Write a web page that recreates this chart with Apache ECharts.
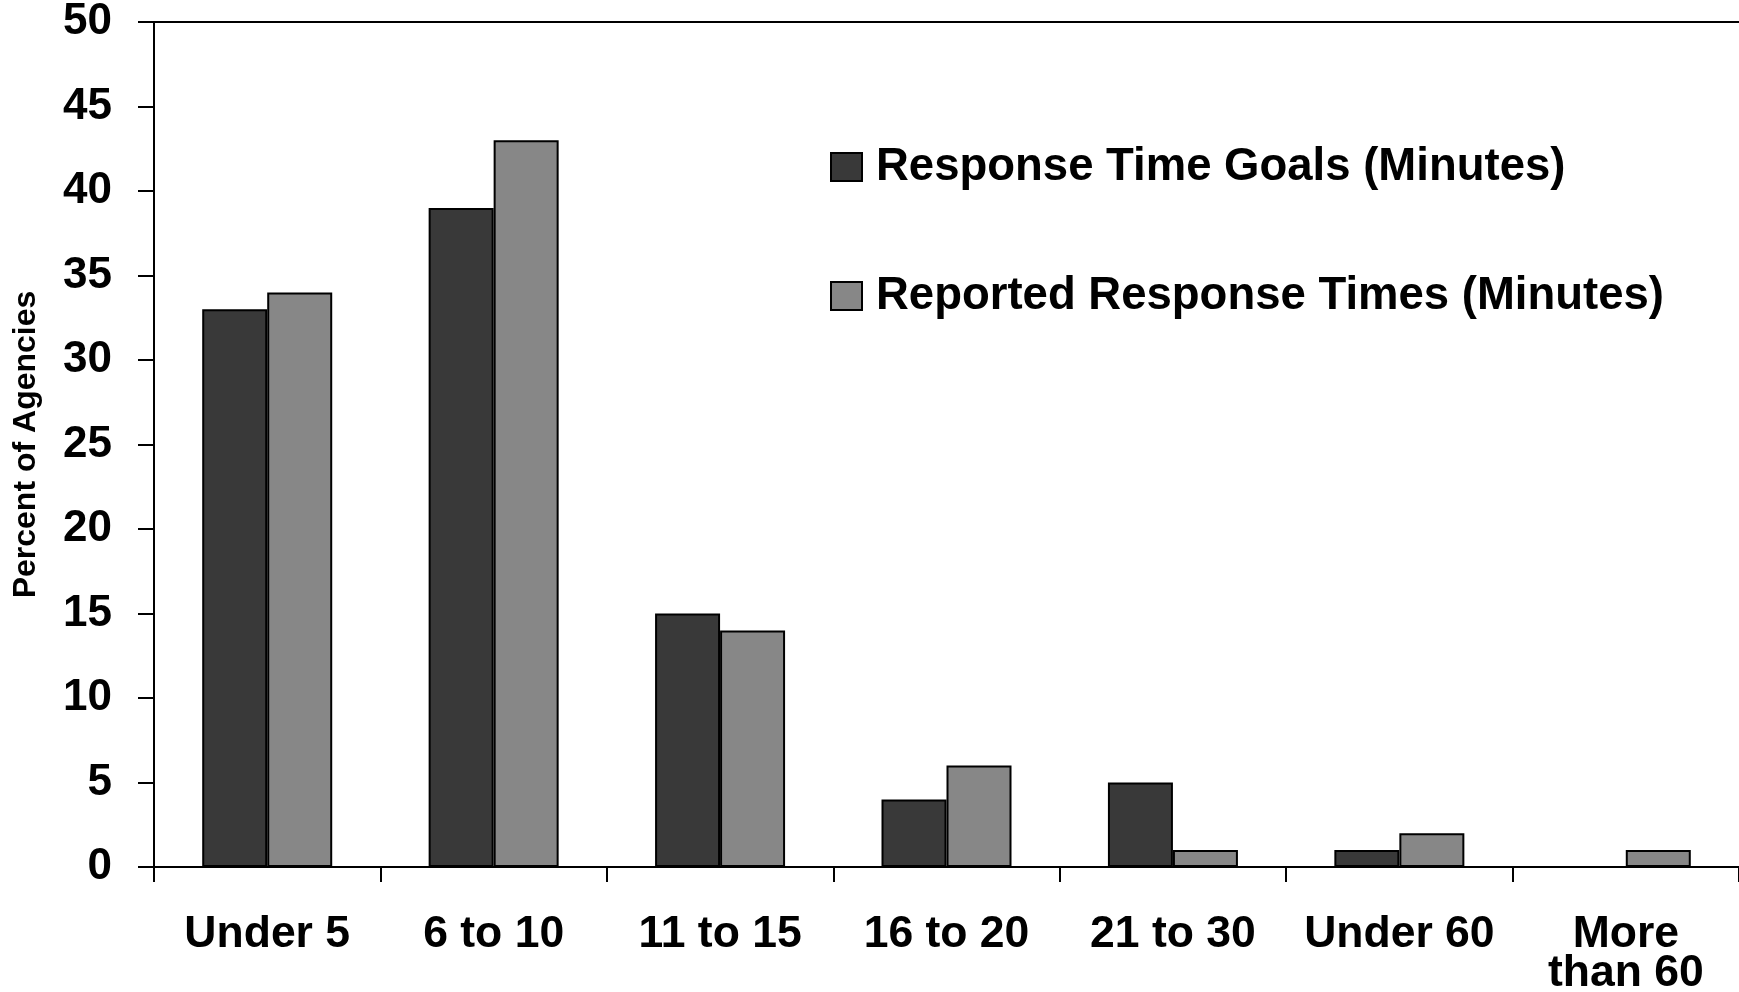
<!DOCTYPE html>
<html>
<head>
<meta charset="utf-8">
<script src="https://cdn.jsdelivr.net/npm/echarts@6/dist/echarts.min.js"></script>
<style>
html,body{margin:0;padding:0;background:#fff;}
#chart{width:1739px;height:992px;}
</style>
</head>
<body>
<div id="chart"></div>
<script>
const categories = ['Under 5', '6 to 10', '11 to 15', '16 to 20', '21 to 30', 'Under 60', 'More\nthan 60'];
const goals = [33, 39, 15, 4, 5, 1, 0];
const reported = [34, 43, 14, 6, 1, 2, 1];
const seriesNames = ['Response Time Goals (Minutes)', 'Reported Response Times (Minutes)'];
const yTicks = {min: 0, max: 50, interval: 5};

const FONT = '"Liberation Sans", Arial, Helvetica, sans-serif';
// zero-height bars draw no outline
const toItems = arr => arr.map(v => v === 0 ? {value: v, itemStyle: {borderWidth: 0}} : v);

const chart = echarts.init(document.getElementById('chart'));
chart.setOption({
  animation: false,
  backgroundColor: '#ffffff',
  grid: {left: 154, right: 0, top: 22, bottom: 125, containLabel: false, outerBoundsMode: 'none'},
  legend: {
    orient: 'vertical',
    left: 825,
    top: 139,
    padding: 5,
    icon: 'rect',
    itemWidth: 31,
    itemHeight: 28,
    itemGap: 83,
    selectedMode: false,
    textStyle: {fontFamily: FONT, fontWeight: 'bold', fontSize: 45.5, color: '#000', lineHeight: 45, padding: [0, 0, 0, 9]},
    data: seriesNames
  },
  xAxis: [{
    type: 'category',
    data: categories,
    position: 'bottom',
    axisLine: {show: true, lineStyle: {color: '#000', width: 2}},
    axisTick: {show: true, length: 15, lineStyle: {color: '#000', width: 2}},
    axisLabel: {fontFamily: FONT, fontWeight: 'bold', fontSize: 44.5, color: '#000', margin: 48, lineHeight: 39, interval: 0},
    splitLine: {show: false}
  }, {
    type: 'category',
    data: categories,
    position: 'top',
    axisLine: {show: true, lineStyle: {color: '#000', width: 2}},
    axisTick: {show: false},
    axisLabel: {show: false},
    splitLine: {show: false}
  }],
  yAxis: {
    type: 'value',
    min: yTicks.min,
    max: yTicks.max,
    interval: yTicks.interval,
    name: 'Percent of Agencies',
    nameLocation: 'middle',
    nameGap: 112,
    nameRotate: 90,
    nameTextStyle: {fontFamily: FONT, fontWeight: 'bold', fontSize: 32, color: '#000'},
    axisLine: {show: true, lineStyle: {color: '#000', width: 2}},
    axisTick: {show: true, length: 16, lineStyle: {color: '#000', width: 2}},
    axisLabel: {fontFamily: FONT, fontWeight: 'bold', fontSize: 44, color: '#000', margin: 42, padding: [6, 0, 0, 0]},
    splitLine: {show: false}
  },
  series: [{
    name: seriesNames[0],
    type: 'bar',
    data: toItems(goals),
    barWidth: 65,
    barGap: '0%',
    itemStyle: {color: '#393939', borderColor: '#000', borderWidth: 2}
  }, {
    name: seriesNames[1],
    type: 'bar',
    data: toItems(reported),
    barWidth: 65,
    barGap: '0%',
    itemStyle: {color: '#878787', borderColor: '#000', borderWidth: 2}
  }]
});
</script>
</body>
</html>
